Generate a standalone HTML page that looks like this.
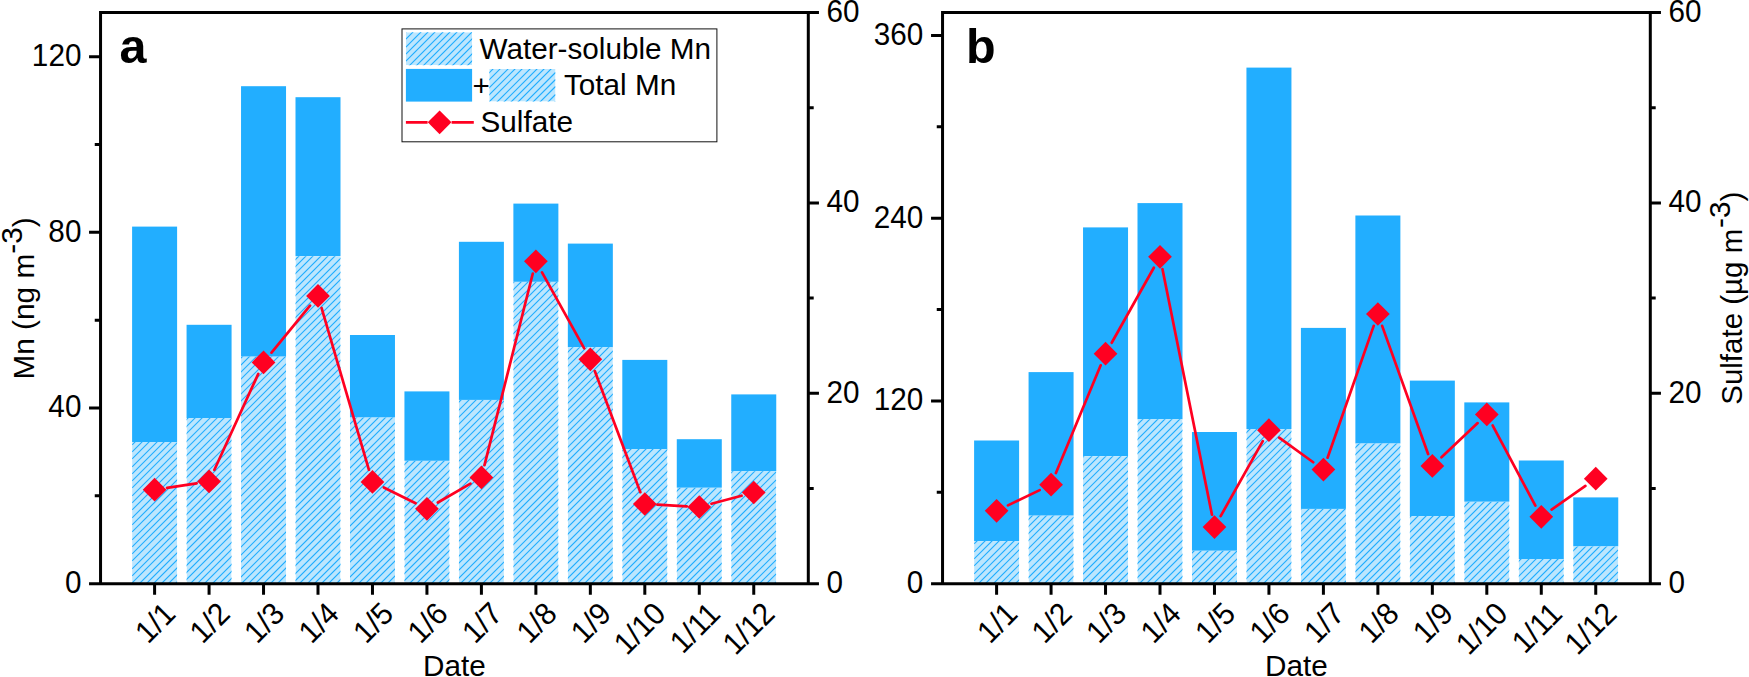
<!DOCTYPE html>
<html><head><meta charset="utf-8"><title>Mn and Sulfate</title>
<style>html,body{margin:0;padding:0;background:#fff}svg{display:block}text{font-family:"Liberation Sans",Arial,sans-serif;fill:#000}</style></head><body>
<svg width="1749" height="677" viewBox="0 0 1749 677">
<rect width="1749" height="677" fill="#fff"/>
<rect x="132.10" y="226.60" width="45.0" height="215.40" fill="#22AEFF"/>
<rect x="186.57" y="324.80" width="45.0" height="93.20" fill="#22AEFF"/>
<rect x="241.04" y="86.20" width="45.0" height="270.40" fill="#22AEFF"/>
<rect x="295.50" y="97.20" width="45.0" height="159.00" fill="#22AEFF"/>
<rect x="349.97" y="335.00" width="45.0" height="82.50" fill="#22AEFF"/>
<rect x="404.44" y="391.40" width="45.0" height="69.40" fill="#22AEFF"/>
<rect x="458.91" y="241.80" width="45.0" height="158.10" fill="#22AEFF"/>
<rect x="513.38" y="203.60" width="45.0" height="78.20" fill="#22AEFF"/>
<rect x="567.84" y="243.60" width="45.0" height="103.70" fill="#22AEFF"/>
<rect x="622.31" y="359.90" width="45.0" height="89.20" fill="#22AEFF"/>
<rect x="676.78" y="439.20" width="45.0" height="48.50" fill="#22AEFF"/>
<rect x="731.25" y="394.40" width="45.0" height="76.90" fill="#22AEFF"/>
<clipPath id="c1"><rect x="132.10" y="442.00" width="45.00" height="141.65"/><rect x="186.57" y="418.00" width="45.00" height="165.65"/><rect x="241.04" y="356.60" width="45.00" height="227.05"/><rect x="295.50" y="256.20" width="45.00" height="327.45"/><rect x="349.97" y="417.50" width="45.00" height="166.15"/><rect x="404.44" y="460.80" width="45.00" height="122.85"/><rect x="458.91" y="399.90" width="45.00" height="183.75"/><rect x="513.38" y="281.80" width="45.00" height="301.85"/><rect x="567.84" y="347.30" width="45.00" height="236.35"/><rect x="622.31" y="449.10" width="45.00" height="134.55"/><rect x="676.78" y="487.70" width="45.00" height="95.95"/><rect x="731.25" y="471.30" width="45.00" height="112.35"/></clipPath>
<g clip-path="url(#c1)">
<rect x="132.10" y="442.00" width="45.00" height="141.65" fill="#BCE6FE"/>
<rect x="186.57" y="418.00" width="45.00" height="165.65" fill="#BCE6FE"/>
<rect x="241.04" y="356.60" width="45.00" height="227.05" fill="#BCE6FE"/>
<rect x="295.50" y="256.20" width="45.00" height="327.45" fill="#BCE6FE"/>
<rect x="349.97" y="417.50" width="45.00" height="166.15" fill="#BCE6FE"/>
<rect x="404.44" y="460.80" width="45.00" height="122.85" fill="#BCE6FE"/>
<rect x="458.91" y="399.90" width="45.00" height="183.75" fill="#BCE6FE"/>
<rect x="513.38" y="281.80" width="45.00" height="301.85" fill="#BCE6FE"/>
<rect x="567.84" y="347.30" width="45.00" height="236.35" fill="#BCE6FE"/>
<rect x="622.31" y="449.10" width="45.00" height="134.55" fill="#BCE6FE"/>
<rect x="676.78" y="487.70" width="45.00" height="95.95" fill="#BCE6FE"/>
<rect x="731.25" y="471.30" width="45.00" height="112.35" fill="#BCE6FE"/>
<path d="M132.1 254.9L776.2 -389.2M132.1 261.9L776.2 -382.2M132.1 269.9L776.2 -374.2M132.1 276.9L776.2 -367.2M132.1 283.9L776.2 -360.2M132.1 290.9L776.2 -353.2M132.1 298.9L776.2 -345.2M132.1 305.9L776.2 -338.2M132.1 312.9L776.2 -331.2M132.1 320.9L776.2 -323.2M132.1 327.9L776.2 -316.2M132.1 334.9L776.2 -309.2M132.1 342.9L776.2 -301.2M132.1 349.9L776.2 -294.2M132.1 356.9L776.2 -287.2M132.1 363.9L776.2 -280.2M132.1 371.9L776.2 -272.2M132.1 378.9L776.2 -265.2M132.1 385.9L776.2 -258.2M132.1 393.9L776.2 -250.2M132.1 400.9L776.2 -243.2M132.1 407.9L776.2 -236.2M132.1 415.9L776.2 -228.2M132.1 422.9L776.2 -221.2M132.1 429.9L776.2 -214.2M132.1 436.9L776.2 -207.2M132.1 444.9L776.2 -199.2M132.1 451.9L776.2 -192.2M132.1 458.9L776.2 -185.2M132.1 466.9L776.2 -177.2M132.1 473.9L776.2 -170.2M132.1 480.9L776.2 -163.2M132.1 487.9L776.2 -156.2M132.1 495.9L776.2 -148.2M132.1 502.9L776.2 -141.2M132.1 509.9L776.2 -134.2M132.1 517.9L776.2 -126.2M132.1 524.9L776.2 -119.2M132.1 531.9L776.2 -112.2M132.1 539.9L776.2 -104.2M132.1 546.9L776.2 -97.2M132.1 553.9L776.2 -90.2M132.1 560.9L776.2 -83.2M132.1 568.9L776.2 -75.2M132.1 575.9L776.2 -68.2M132.1 582.9L776.2 -61.2M132.1 590.9L776.2 -53.2M132.1 597.9L776.2 -46.2M132.1 604.9L776.2 -39.2M132.1 612.9L776.2 -31.2M132.1 619.9L776.2 -24.2M132.1 626.9L776.2 -17.2M132.1 633.9L776.2 -10.2M132.1 641.9L776.2 -2.2M132.1 648.9L776.2 4.8M132.1 655.9L776.2 11.8M132.1 663.9L776.2 19.8M132.1 670.9L776.2 26.8M132.1 677.9L776.2 33.8M132.1 685.9L776.2 41.8M132.1 692.9L776.2 48.8M132.1 699.9L776.2 55.8M132.1 706.9L776.2 62.8M132.1 714.9L776.2 70.8M132.1 721.9L776.2 77.8M132.1 728.9L776.2 84.8M132.1 736.9L776.2 92.8M132.1 743.9L776.2 99.8M132.1 750.9L776.2 106.8M132.1 758.9L776.2 114.8M132.1 765.9L776.2 121.8M132.1 772.9L776.2 128.8M132.1 779.9L776.2 135.8M132.1 787.9L776.2 143.8M132.1 794.9L776.2 150.8M132.1 801.9L776.2 157.8M132.1 809.9L776.2 165.8M132.1 816.9L776.2 172.8M132.1 823.9L776.2 179.8M132.1 831.9L776.2 187.8M132.1 838.9L776.2 194.8M132.1 845.9L776.2 201.8M132.1 852.9L776.2 208.8M132.1 860.9L776.2 216.8M132.1 867.9L776.2 223.8M132.1 874.9L776.2 230.8M132.1 882.9L776.2 238.8M132.1 889.9L776.2 245.8M132.1 896.9L776.2 252.8M132.1 904.9L776.2 260.8M132.1 911.9L776.2 267.8M132.1 918.9L776.2 274.8M132.1 925.9L776.2 281.8M132.1 933.9L776.2 289.8M132.1 940.9L776.2 296.8M132.1 947.9L776.2 303.8M132.1 955.9L776.2 311.8M132.1 962.9L776.2 318.8M132.1 969.9L776.2 325.8M132.1 977.9L776.2 333.8M132.1 984.9L776.2 340.8M132.1 991.9L776.2 347.8M132.1 998.9L776.2 354.8M132.1 1006.9L776.2 362.8M132.1 1013.9L776.2 369.8M132.1 1020.9L776.2 376.8M132.1 1028.9L776.2 384.8M132.1 1035.9L776.2 391.8M132.1 1042.9L776.2 398.8M132.1 1050.9L776.2 406.8M132.1 1057.9L776.2 413.8M132.1 1064.9L776.2 420.8M132.1 1071.9L776.2 427.8M132.1 1079.9L776.2 435.8M132.1 1086.9L776.2 442.8M132.1 1093.9L776.2 449.8M132.1 1101.9L776.2 457.8M132.1 1108.9L776.2 464.8M132.1 1115.9L776.2 471.8M132.1 1123.9L776.2 479.8M132.1 1130.9L776.2 486.8M132.1 1137.9L776.2 493.8M132.1 1144.9L776.2 500.8M132.1 1152.9L776.2 508.8M132.1 1159.9L776.2 515.8M132.1 1166.9L776.2 522.8M132.1 1174.9L776.2 530.8M132.1 1181.9L776.2 537.8M132.1 1188.9L776.2 544.8M132.1 1196.9L776.2 552.8M132.1 1203.9L776.2 559.8M132.1 1210.9L776.2 566.8M132.1 1217.9L776.2 573.8M132.1 1225.9L776.2 581.8M132.1 1232.9L776.2 588.8" stroke="#22AEFF" stroke-width="1.15" fill="none"/>
</g>
<path d="M167.06 487.80L196.61 483.30M214.31 469.94L258.29 373.86M271.52 352.65L310.02 305.65M321.55 307.99L368.93 469.81M383.77 487.48L415.64 503.22M437.86 502.51L470.49 483.69M484.49 465.18L532.80 273.52M542.00 272.31L584.22 348.29M594.78 371.09L640.37 492.21M657.39 504.69L686.70 506.31M711.46 503.76L741.57 495.74" stroke="#FF0021" stroke-width="2.7" stroke-linecap="round" fill="none"/>
<path d="M142.75 489.70L154.60 477.85L166.45 489.70L154.60 501.55Z" fill="#FF0021"/>
<path d="M197.22 481.40L209.07 469.55L220.92 481.40L209.07 493.25Z" fill="#FF0021"/>
<path d="M251.69 362.40L263.54 350.55L275.39 362.40L263.54 374.25Z" fill="#FF0021"/>
<path d="M306.15 295.90L318.00 284.05L329.85 295.90L318.00 307.75Z" fill="#FF0021"/>
<path d="M360.62 481.90L372.47 470.05L384.32 481.90L372.47 493.75Z" fill="#FF0021"/>
<path d="M415.09 508.80L426.94 496.95L438.79 508.80L426.94 520.65Z" fill="#FF0021"/>
<path d="M469.56 477.40L481.41 465.55L493.26 477.40L481.41 489.25Z" fill="#FF0021"/>
<path d="M524.03 261.30L535.88 249.45L547.73 261.30L535.88 273.15Z" fill="#FF0021"/>
<path d="M578.49 359.30L590.34 347.45L602.19 359.30L590.34 371.15Z" fill="#FF0021"/>
<path d="M632.96 504.00L644.81 492.15L656.66 504.00L644.81 515.85Z" fill="#FF0021"/>
<path d="M687.43 507.00L699.28 495.15L711.13 507.00L699.28 518.85Z" fill="#FF0021"/>
<path d="M741.90 492.50L753.75 480.65L765.60 492.50L753.75 504.35Z" fill="#FF0021"/>
<path d="M100.55 583.65L100.55 12.55L808.3 12.55L808.3 583.65" stroke="#000" stroke-width="3" fill="none" stroke-linejoin="miter"/>
<path d="M89.05 583.65L818.9499999999999 583.65" stroke="#000" stroke-width="3" fill="none"/>
<text transform="translate(81.4 593.05) scale(1 1.045)" font-size="29.7" text-anchor="end">0</text>
<text transform="translate(81.4 417.41) scale(1 1.045)" font-size="29.7" text-anchor="end">40</text>
<text transform="translate(81.4 241.77) scale(1 1.045)" font-size="29.7" text-anchor="end">80</text>
<text transform="translate(81.4 66.13) scale(1 1.045)" font-size="29.7" text-anchor="end">120</text>
<text transform="translate(826.5 593.05) scale(1 1.045)" font-size="29.7" text-anchor="start">0</text>
<text transform="translate(826.5 402.68) scale(1 1.045)" font-size="29.7" text-anchor="start">20</text>
<text transform="translate(826.5 212.32) scale(1 1.045)" font-size="29.7" text-anchor="start">40</text>
<text transform="translate(826.5 21.95) scale(1 1.045)" font-size="29.7" text-anchor="start">60</text>
<path d="M154.60 583.65L154.60 594.8M209.07 583.65L209.07 594.8M263.54 583.65L263.54 594.8M318.00 583.65L318.00 594.8M372.47 583.65L372.47 594.8M426.94 583.65L426.94 594.8M481.41 583.65L481.41 594.8M535.88 583.65L535.88 594.8M590.34 583.65L590.34 594.8M644.81 583.65L644.81 594.8M699.28 583.65L699.28 594.8M753.75 583.65L753.75 594.8M89.05 408.01L100.55 408.01M89.05 232.37L100.55 232.37M89.05 56.73L100.55 56.73M94.75 495.83L100.55 495.83M94.75 320.19L100.55 320.19M94.75 144.55L100.55 144.55M808.3 393.28L818.9499999999999 393.28M808.3 202.92L818.9499999999999 202.92M808.3 12.55L818.9499999999999 12.55M808.3 488.47L813.6999999999999 488.47M808.3 298.10L813.6999999999999 298.10M808.3 107.73L813.6999999999999 107.73" stroke="#000" stroke-width="3" fill="none"/>
<text transform="translate(177.30 615.5) rotate(-45) scale(1 1.045)" font-size="29.7" text-anchor="end">1/1</text>
<text transform="translate(231.77 615.5) rotate(-45) scale(1 1.045)" font-size="29.7" text-anchor="end">1/2</text>
<text transform="translate(286.24 615.5) rotate(-45) scale(1 1.045)" font-size="29.7" text-anchor="end">1/3</text>
<text transform="translate(340.70 615.5) rotate(-45) scale(1 1.045)" font-size="29.7" text-anchor="end">1/4</text>
<text transform="translate(395.17 615.5) rotate(-45) scale(1 1.045)" font-size="29.7" text-anchor="end">1/5</text>
<text transform="translate(449.64 615.5) rotate(-45) scale(1 1.045)" font-size="29.7" text-anchor="end">1/6</text>
<text transform="translate(504.11 615.5) rotate(-45) scale(1 1.045)" font-size="29.7" text-anchor="end">1/7</text>
<text transform="translate(558.58 615.5) rotate(-45) scale(1 1.045)" font-size="29.7" text-anchor="end">1/8</text>
<text transform="translate(613.04 615.5) rotate(-45) scale(1 1.045)" font-size="29.7" text-anchor="end">1/9</text>
<text transform="translate(667.51 615.5) rotate(-45) scale(1 1.045)" font-size="29.7" text-anchor="end">1/10</text>
<text transform="translate(721.98 615.5) rotate(-45) scale(1 1.045)" font-size="29.7" text-anchor="end">1/11</text>
<text transform="translate(776.45 615.5) rotate(-45) scale(1 1.045)" font-size="29.7" text-anchor="end">1/12</text>
<text x="454.42" y="675.6" font-size="29.7" text-anchor="middle">Date</text>
<text x="119.5" y="62.6" font-size="48.5" font-weight="bold">a</text>
<rect x="974.10" y="440.50" width="45.0" height="100.60" fill="#22AEFF"/>
<rect x="1028.57" y="372.10" width="45.0" height="143.50" fill="#22AEFF"/>
<rect x="1083.04" y="227.40" width="45.0" height="228.80" fill="#22AEFF"/>
<rect x="1137.50" y="203.10" width="45.0" height="216.20" fill="#22AEFF"/>
<rect x="1191.97" y="432.00" width="45.0" height="118.70" fill="#22AEFF"/>
<rect x="1246.44" y="67.60" width="45.0" height="361.40" fill="#22AEFF"/>
<rect x="1300.91" y="327.90" width="45.0" height="181.00" fill="#22AEFF"/>
<rect x="1355.38" y="215.50" width="45.0" height="228.00" fill="#22AEFF"/>
<rect x="1409.84" y="380.60" width="45.0" height="135.50" fill="#22AEFF"/>
<rect x="1464.31" y="402.40" width="45.0" height="99.30" fill="#22AEFF"/>
<rect x="1518.78" y="460.50" width="45.0" height="98.50" fill="#22AEFF"/>
<rect x="1573.25" y="497.40" width="45.0" height="49.00" fill="#22AEFF"/>
<clipPath id="c2"><rect x="974.10" y="541.10" width="45.00" height="42.55"/><rect x="1028.57" y="515.60" width="45.00" height="68.05"/><rect x="1083.04" y="456.20" width="45.00" height="127.45"/><rect x="1137.50" y="419.30" width="45.00" height="164.35"/><rect x="1191.97" y="550.70" width="45.00" height="32.95"/><rect x="1246.44" y="429.00" width="45.00" height="154.65"/><rect x="1300.91" y="508.90" width="45.00" height="74.75"/><rect x="1355.38" y="443.50" width="45.00" height="140.15"/><rect x="1409.84" y="516.10" width="45.00" height="67.55"/><rect x="1464.31" y="501.70" width="45.00" height="81.95"/><rect x="1518.78" y="559.00" width="45.00" height="24.65"/><rect x="1573.25" y="546.40" width="45.00" height="37.25"/></clipPath>
<g clip-path="url(#c2)">
<rect x="974.10" y="541.10" width="45.00" height="42.55" fill="#BCE6FE"/>
<rect x="1028.57" y="515.60" width="45.00" height="68.05" fill="#BCE6FE"/>
<rect x="1083.04" y="456.20" width="45.00" height="127.45" fill="#BCE6FE"/>
<rect x="1137.50" y="419.30" width="45.00" height="164.35" fill="#BCE6FE"/>
<rect x="1191.97" y="550.70" width="45.00" height="32.95" fill="#BCE6FE"/>
<rect x="1246.44" y="429.00" width="45.00" height="154.65" fill="#BCE6FE"/>
<rect x="1300.91" y="508.90" width="45.00" height="74.75" fill="#BCE6FE"/>
<rect x="1355.38" y="443.50" width="45.00" height="140.15" fill="#BCE6FE"/>
<rect x="1409.84" y="516.10" width="45.00" height="67.55" fill="#BCE6FE"/>
<rect x="1464.31" y="501.70" width="45.00" height="81.95" fill="#BCE6FE"/>
<rect x="1518.78" y="559.00" width="45.00" height="24.65" fill="#BCE6FE"/>
<rect x="1573.25" y="546.40" width="45.00" height="37.25" fill="#BCE6FE"/>
<path d="M974.1 412.9L1618.2 -231.2M974.1 419.9L1618.2 -224.2M974.1 427.9L1618.2 -216.2M974.1 434.9L1618.2 -209.2M974.1 441.9L1618.2 -202.2M974.1 448.9L1618.2 -195.2M974.1 456.9L1618.2 -187.2M974.1 463.9L1618.2 -180.2M974.1 470.9L1618.2 -173.2M974.1 478.9L1618.2 -165.2M974.1 485.9L1618.2 -158.2M974.1 492.9L1618.2 -151.2M974.1 500.9L1618.2 -143.2M974.1 507.9L1618.2 -136.2M974.1 514.9L1618.2 -129.2M974.1 521.9L1618.2 -122.2M974.1 529.9L1618.2 -114.2M974.1 536.9L1618.2 -107.2M974.1 543.9L1618.2 -100.2M974.1 551.9L1618.2 -92.2M974.1 558.9L1618.2 -85.2M974.1 565.9L1618.2 -78.2M974.1 573.9L1618.2 -70.2M974.1 580.9L1618.2 -63.2M974.1 587.9L1618.2 -56.2M974.1 594.9L1618.2 -49.2M974.1 602.9L1618.2 -41.2M974.1 609.9L1618.2 -34.2M974.1 616.9L1618.2 -27.2M974.1 624.9L1618.2 -19.2M974.1 631.9L1618.2 -12.2M974.1 638.9L1618.2 -5.2M974.1 646.9L1618.2 2.8M974.1 653.9L1618.2 9.8M974.1 660.9L1618.2 16.8M974.1 667.9L1618.2 23.8M974.1 675.9L1618.2 31.8M974.1 682.9L1618.2 38.8M974.1 689.9L1618.2 45.8M974.1 697.9L1618.2 53.8M974.1 704.9L1618.2 60.8M974.1 711.9L1618.2 67.8M974.1 719.9L1618.2 75.8M974.1 726.9L1618.2 82.8M974.1 733.9L1618.2 89.8M974.1 740.9L1618.2 96.8M974.1 748.9L1618.2 104.8M974.1 755.9L1618.2 111.8M974.1 762.9L1618.2 118.8M974.1 770.9L1618.2 126.8M974.1 777.9L1618.2 133.8M974.1 784.9L1618.2 140.8M974.1 792.9L1618.2 148.8M974.1 799.9L1618.2 155.8M974.1 806.9L1618.2 162.8M974.1 813.9L1618.2 169.8M974.1 821.9L1618.2 177.8M974.1 828.9L1618.2 184.8M974.1 835.9L1618.2 191.8M974.1 843.9L1618.2 199.8M974.1 850.9L1618.2 206.8M974.1 857.9L1618.2 213.8M974.1 865.9L1618.2 221.8M974.1 872.9L1618.2 228.8M974.1 879.9L1618.2 235.8M974.1 886.9L1618.2 242.8M974.1 894.9L1618.2 250.8M974.1 901.9L1618.2 257.8M974.1 908.9L1618.2 264.8M974.1 916.9L1618.2 272.8M974.1 923.9L1618.2 279.8M974.1 930.9L1618.2 286.8M974.1 938.9L1618.2 294.8M974.1 945.9L1618.2 301.8M974.1 952.9L1618.2 308.8M974.1 959.9L1618.2 315.8M974.1 967.9L1618.2 323.8M974.1 974.9L1618.2 330.8M974.1 981.9L1618.2 337.8M974.1 989.9L1618.2 345.8M974.1 996.9L1618.2 352.8M974.1 1003.9L1618.2 359.8M974.1 1011.9L1618.2 367.8M974.1 1018.9L1618.2 374.8M974.1 1025.9L1618.2 381.8M974.1 1032.9L1618.2 388.8M974.1 1040.9L1618.2 396.8M974.1 1047.9L1618.2 403.8M974.1 1054.9L1618.2 410.8M974.1 1062.9L1618.2 418.8M974.1 1069.9L1618.2 425.8M974.1 1076.9L1618.2 432.8M974.1 1084.9L1618.2 440.8M974.1 1091.9L1618.2 447.8M974.1 1098.9L1618.2 454.8M974.1 1105.9L1618.2 461.8M974.1 1113.9L1618.2 469.8M974.1 1120.9L1618.2 476.8M974.1 1127.9L1618.2 483.8M974.1 1135.9L1618.2 491.8M974.1 1142.9L1618.2 498.8M974.1 1149.9L1618.2 505.8M974.1 1157.9L1618.2 513.8M974.1 1164.9L1618.2 520.8M974.1 1171.9L1618.2 527.8M974.1 1178.9L1618.2 534.8M974.1 1186.9L1618.2 542.8M974.1 1193.9L1618.2 549.8M974.1 1200.9L1618.2 556.8M974.1 1208.9L1618.2 564.8M974.1 1215.9L1618.2 571.8M974.1 1222.9L1618.2 578.8M974.1 1230.9L1618.2 586.8" stroke="#22AEFF" stroke-width="1.15" fill="none"/>
</g>
<path d="M1007.96 505.36L1039.71 490.14M1055.91 473.07L1100.70 365.33M1111.71 342.72L1153.83 267.78M1162.49 269.15L1211.98 514.75M1220.65 516.12L1262.77 441.18M1279.15 437.58L1313.20 462.22M1327.57 457.71L1373.71 325.89M1382.13 325.86L1428.09 454.04M1441.50 457.24L1477.66 423.06M1492.73 425.52L1535.36 505.68M1551.60 509.58L1585.42 485.92" stroke="#FF0021" stroke-width="2.7" stroke-linecap="round" fill="none"/>
<path d="M984.75 510.80L996.60 498.95L1008.45 510.80L996.60 522.65Z" fill="#FF0021"/>
<path d="M1039.22 484.70L1051.07 472.85L1062.92 484.70L1051.07 496.55Z" fill="#FF0021"/>
<path d="M1093.69 353.70L1105.54 341.85L1117.39 353.70L1105.54 365.55Z" fill="#FF0021"/>
<path d="M1148.15 256.80L1160.00 244.95L1171.85 256.80L1160.00 268.65Z" fill="#FF0021"/>
<path d="M1202.62 527.10L1214.47 515.25L1226.32 527.10L1214.47 538.95Z" fill="#FF0021"/>
<path d="M1257.09 430.20L1268.94 418.35L1280.79 430.20L1268.94 442.05Z" fill="#FF0021"/>
<path d="M1311.56 469.60L1323.41 457.75L1335.26 469.60L1323.41 481.45Z" fill="#FF0021"/>
<path d="M1366.03 314.00L1377.88 302.15L1389.73 314.00L1377.88 325.85Z" fill="#FF0021"/>
<path d="M1420.49 465.90L1432.34 454.05L1444.19 465.90L1432.34 477.75Z" fill="#FF0021"/>
<path d="M1474.96 414.40L1486.81 402.55L1498.66 414.40L1486.81 426.25Z" fill="#FF0021"/>
<path d="M1529.43 516.80L1541.28 504.95L1553.13 516.80L1541.28 528.65Z" fill="#FF0021"/>
<path d="M1583.90 478.70L1595.75 466.85L1607.60 478.70L1595.75 490.55Z" fill="#FF0021"/>
<path d="M942.55 583.65L942.55 12.55L1650.3 12.55L1650.3 583.65" stroke="#000" stroke-width="3" fill="none" stroke-linejoin="miter"/>
<path d="M931.05 583.65L1660.95 583.65" stroke="#000" stroke-width="3" fill="none"/>
<text transform="translate(923.2 593.05) scale(1 1.045)" font-size="29.7" text-anchor="end">0</text>
<text transform="translate(923.2 410.30) scale(1 1.045)" font-size="29.7" text-anchor="end">120</text>
<text transform="translate(923.2 227.55) scale(1 1.045)" font-size="29.7" text-anchor="end">240</text>
<text transform="translate(923.2 44.81) scale(1 1.045)" font-size="29.7" text-anchor="end">360</text>
<text transform="translate(1668.5 593.05) scale(1 1.045)" font-size="29.7" text-anchor="start">0</text>
<text transform="translate(1668.5 402.68) scale(1 1.045)" font-size="29.7" text-anchor="start">20</text>
<text transform="translate(1668.5 212.32) scale(1 1.045)" font-size="29.7" text-anchor="start">40</text>
<text transform="translate(1668.5 21.95) scale(1 1.045)" font-size="29.7" text-anchor="start">60</text>
<path d="M996.60 583.65L996.60 594.8M1051.07 583.65L1051.07 594.8M1105.54 583.65L1105.54 594.8M1160.00 583.65L1160.00 594.8M1214.47 583.65L1214.47 594.8M1268.94 583.65L1268.94 594.8M1323.41 583.65L1323.41 594.8M1377.88 583.65L1377.88 594.8M1432.34 583.65L1432.34 594.8M1486.81 583.65L1486.81 594.8M1541.28 583.65L1541.28 594.8M1595.75 583.65L1595.75 594.8M931.05 400.90L942.55 400.90M931.05 218.15L942.55 218.15M931.05 35.41L942.55 35.41M936.75 492.28L942.55 492.28M936.75 309.53L942.55 309.53M936.75 126.78L942.55 126.78M1650.3 393.28L1660.95 393.28M1650.3 202.92L1660.95 202.92M1650.3 12.55L1660.95 12.55M1650.3 488.47L1655.7 488.47M1650.3 298.10L1655.7 298.10M1650.3 107.73L1655.7 107.73" stroke="#000" stroke-width="3" fill="none"/>
<text transform="translate(1019.30 615.5) rotate(-45) scale(1 1.045)" font-size="29.7" text-anchor="end">1/1</text>
<text transform="translate(1073.77 615.5) rotate(-45) scale(1 1.045)" font-size="29.7" text-anchor="end">1/2</text>
<text transform="translate(1128.24 615.5) rotate(-45) scale(1 1.045)" font-size="29.7" text-anchor="end">1/3</text>
<text transform="translate(1182.70 615.5) rotate(-45) scale(1 1.045)" font-size="29.7" text-anchor="end">1/4</text>
<text transform="translate(1237.17 615.5) rotate(-45) scale(1 1.045)" font-size="29.7" text-anchor="end">1/5</text>
<text transform="translate(1291.64 615.5) rotate(-45) scale(1 1.045)" font-size="29.7" text-anchor="end">1/6</text>
<text transform="translate(1346.11 615.5) rotate(-45) scale(1 1.045)" font-size="29.7" text-anchor="end">1/7</text>
<text transform="translate(1400.58 615.5) rotate(-45) scale(1 1.045)" font-size="29.7" text-anchor="end">1/8</text>
<text transform="translate(1455.04 615.5) rotate(-45) scale(1 1.045)" font-size="29.7" text-anchor="end">1/9</text>
<text transform="translate(1509.51 615.5) rotate(-45) scale(1 1.045)" font-size="29.7" text-anchor="end">1/10</text>
<text transform="translate(1563.98 615.5) rotate(-45) scale(1 1.045)" font-size="29.7" text-anchor="end">1/11</text>
<text transform="translate(1618.45 615.5) rotate(-45) scale(1 1.045)" font-size="29.7" text-anchor="end">1/12</text>
<text x="1296.42" y="675.6" font-size="29.7" text-anchor="middle">Date</text>
<text x="966" y="62.6" font-size="48.5" font-weight="bold">b</text>
<rect x="402" y="28.9" width="314.9" height="112.9" fill="#fff" stroke="#111" stroke-width="1"/>
<clipPath id="c3"><rect x="405.90" y="32.30" width="66.20" height="32.90"/><rect x="489.30" y="68.90" width="66.20" height="32.70"/></clipPath>
<g clip-path="url(#c3)">
<rect x="405.90" y="32.30" width="66.20" height="32.90" fill="#BCE6FE"/>
<rect x="489.30" y="68.90" width="66.20" height="32.70" fill="#BCE6FE"/>
<path d="M405.9 32.1L555.5 -117.5M405.9 39.1L555.5 -110.5M405.9 47.1L555.5 -102.5M405.9 54.1L555.5 -95.5M405.9 61.1L555.5 -88.5M405.9 69.1L555.5 -80.5M405.9 76.1L555.5 -73.5M405.9 83.1L555.5 -66.5M405.9 90.1L555.5 -59.5M405.9 98.1L555.5 -51.5M405.9 105.1L555.5 -44.5M405.9 112.1L555.5 -37.5M405.9 120.1L555.5 -29.5M405.9 127.1L555.5 -22.5M405.9 134.1L555.5 -15.5M405.9 141.1L555.5 -8.5M405.9 149.1L555.5 -0.5M405.9 156.1L555.5 6.5M405.9 163.1L555.5 13.5M405.9 171.1L555.5 21.5M405.9 178.1L555.5 28.5M405.9 185.1L555.5 35.5M405.9 193.1L555.5 43.5M405.9 200.1L555.5 50.5M405.9 207.1L555.5 57.5M405.9 214.1L555.5 64.5M405.9 222.1L555.5 72.5M405.9 229.1L555.5 79.5M405.9 236.1L555.5 86.5M405.9 244.1L555.5 94.5M405.9 251.1L555.5 101.5M405.9 258.1L555.5 108.5" stroke="#22AEFF" stroke-width="1.15" fill="none"/>
</g>
<rect x="405.9" y="68.9" width="66.2" height="32.7" fill="#22AEFF"/>
<text x="472.5" y="95.5" font-size="29.7">+</text>
<text x="479.5" y="59" font-size="29.7">Water-soluble Mn</text>
<text x="564" y="94.8" font-size="29.7">Total Mn</text>
<text x="480.5" y="131.6" font-size="29.7">Sulfate</text>
<path d="M405.9 122.3L427.6 122.3M451.6 122.3L473.8 122.3" stroke="#FF0021" stroke-width="2.7" fill="none"/>
<path d="M427.75 122.30L439.60 110.45L451.45 122.30L439.60 134.15Z" fill="#FF0021"/>
<text transform="translate(34.2 379.6) rotate(-90)" font-size="29.8">Mn (ng m<tspan dy="-12">-3</tspan><tspan dy="12">)</tspan></text>
<text transform="translate(1742.4 404.8) rotate(-90)" font-size="29.5">Sulfate (µg m<tspan dx="0.8" dy="-12" font-size="29.8">-3</tspan><tspan dy="12">)</tspan></text>
</svg></body></html>
